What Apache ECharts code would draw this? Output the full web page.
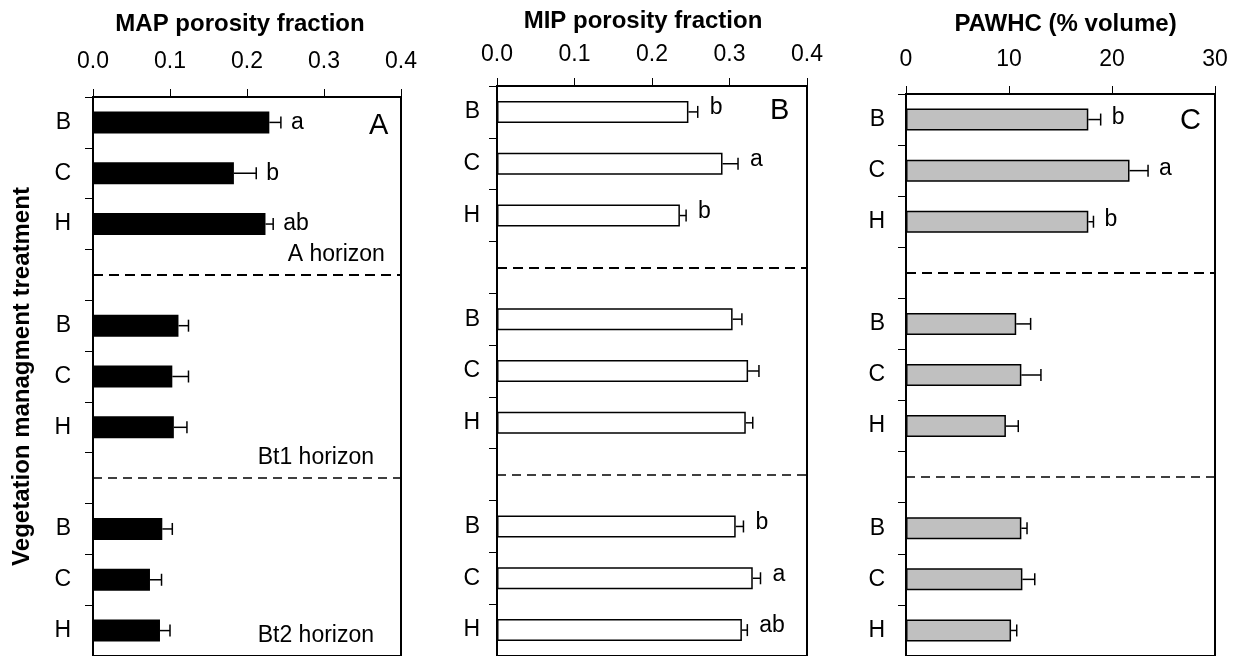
<!DOCTYPE html>
<html>
<head>
<meta charset="utf-8">
<script src="https://cdn.jsdelivr.net/npm/echarts@6/dist/echarts.min.js"></script>
<style>
html,body{margin:0;padding:0;background:#fff;}
#chart{width:1235px;height:656px;}
</style>
</head>
<body>
<div id="chart"></div>
<script>
// ---- data ----
const treatments = ['B', 'C', 'H'];
const horizons = ['A horizon', 'Bt1 horizon', 'Bt2 horizon'];

// order: A(B,C,H), Bt1(B,C,H), Bt2(B,C,H)
const mapMean = [0.229, 0.183, 0.224, 0.111, 0.103, 0.105, 0.090, 0.074, 0.087];
const mapErr  = [0.015, 0.029, 0.010, 0.013, 0.021, 0.017, 0.013, 0.015, 0.013];
const mapLetters = ['a', 'b', 'ab', '', '', '', '', '', ''];

const mipMean = [0.247, 0.291, 0.236, 0.304, 0.324, 0.321, 0.308, 0.330, 0.316];
const mipErr  = [0.012, 0.020, 0.008, 0.012, 0.014, 0.009, 0.010, 0.010, 0.007];
const mipLetters = ['b', 'a', 'b', '', '', '', 'b', 'a', 'ab'];

const pawMean = [17.7, 21.7, 17.7, 10.7, 11.2, 9.7, 11.2, 11.3, 10.2];
const pawErr  = [1.2, 1.8, 0.5, 1.4, 1.9, 1.2, 0.55, 1.2, 0.55];
const pawLetters = ['b', 'a', 'b', '', '', '', '', '', ''];

const fracTicks = ['0.0', '0.1', '0.2', '0.3', '0.4'];
const pawTicks = ['0', '10', '20', '30'];

// ---- build ----
const FONT = '"Liberation Sans", Arial, sans-serif';
const cats = [];
const idOf = [];
horizons.forEach((h, hi) => {
  treatments.forEach((t) => { idOf.push(t + hi); cats.push(t + hi); });
  if (hi < horizons.length - 1) cats.push('sep' + hi);
});
function slotValues(means) {
  return cats.map(c => {
    const k = idOf.indexOf(c);
    return k < 0 ? '-' : means[k];
  });
}

const chart = echarts.init(document.getElementById('chart'), null, {renderer: 'canvas'});

const grids = [
  {left: 93, top: 97, width: 308, height: 561},
  {left: 497, top: 86, width: 310, height: 572},
  {left: 906, top: 94, width: 309, height: 563}
];

const panels = [
  {name: 'MAP porosity fraction', max: 0.4, interval: 0.1, ticks: fracTicks, mean: mapMean, err: mapErr, letters: mapLetters,
   fill: '#000000', labelMargin: 24, nameGap: 61, namePad: [0, 14, 0, 0], catMargin: 22, letterGap: 10, letterDy: 0},
  {name: 'MIP porosity fraction', max: 0.4, interval: 0.1, ticks: fracTicks, mean: mipMean, err: mipErr, letters: mipLetters,
   fill: '#ffffff', labelMargin: 20, nameGap: 53, namePad: [0, 18, 0, 0], catMargin: 17, letterGap: 12, letterDy: -4},
  {name: 'PAWHC (% volume)', max: 30, interval: 10, ticks: pawTicks, mean: pawMean, err: pawErr, letters: pawLetters,
   fill: '#c0c0c0', labelMargin: 23, nameGap: 58, namePad: [0, 0, 0, 10], catMargin: 21, letterGap: 11, letterDy: -2}
];

const xAxes = [], yAxes = [], series = [];
panels.forEach((p, i) => {
  xAxes.push({
    gridIndex: i, type: 'value', position: 'top', min: 0, max: p.max, interval: p.interval,
    name: p.name, nameLocation: 'middle', nameGap: p.nameGap,
    nameTextStyle: {fontFamily: FONT, fontSize: 24, fontWeight: 'bold', color: '#000', padding: p.namePad},
    axisLine: {show: true, onZero: false, lineStyle: {color: '#000', width: 2}},
    axisTick: {show: true, inside: false, length: 8, lineStyle: {color: '#000', width: 1}},
    axisLabel: {fontFamily: FONT, fontSize: 23, color: '#000', margin: p.labelMargin,
      formatter: (v) => { const k = Math.round(v / p.interval); return p.ticks[k] !== undefined ? p.ticks[k] : ''; }},
    splitLine: {show: false}
  });
  const ya = {
    gridIndex: i, type: 'category', inverse: true, data: cats,
    axisLine: {show: true, lineStyle: {color: '#000', width: 2}},
    axisTick: {show: true, inside: false, length: 8, interval: 0, alignWithLabel: false, lineStyle: {color: '#000', width: 1}},
    axisLabel: {interval: 0, fontFamily: FONT, fontSize: 23, color: '#000', margin: p.catMargin,
      formatter: (v) => v.indexOf('sep') === 0 ? '' : v.charAt(0)},
    splitLine: {show: false}
  };
  if (i === 0) {
    ya.name = 'Vegetation managment treatment';
    ya.nameLocation = 'middle';
    ya.nameRotate = 90;
    ya.nameGap = 51;
    ya.nameTextStyle = {fontFamily: FONT, fontSize: 24, fontWeight: 'bold', color: '#000', padding: [0, 0, 8, 0]};
  }
  yAxes.push(ya);

  series.push({
    type: 'bar', xAxisIndex: i, yAxisIndex: i, barWidth: 22,
    data: slotValues(p.mean),
    itemStyle: {color: p.fill, borderColor: '#000', borderWidth: i === 0 ? 0 : 1.5},
    silent: true,
    markLine: {
      silent: true, symbol: 'none', label: {show: false},
      lineStyle: {color: '#000', type: [10, 6], width: 2},
      data: [{yAxis: 'sep0'}, {yAxis: 'sep1', lineStyle: {width: 1.5, type: [9, 6]}}]
    }
  });

  series.push({
    type: 'custom', xAxisIndex: i, yAxisIndex: i, silent: true, z: 5,
    encode: {x: 1, y: 0},
    data: idOf.map((id, k) => [id, p.mean[k], p.err[k]]),
    renderItem: function (params, api) {
      const idx = api.value(0);
      const m = api.value(1), e = api.value(2);
      const p0 = api.coord([m, idx]);
      const p1 = api.coord([m + e, idx]);
      const children = [
        {type: 'line', shape: {x1: p0[0], y1: p0[1], x2: p1[0], y2: p1[1]}, style: {stroke: '#000', lineWidth: 1.5}},
        {type: 'line', shape: {x1: p1[0], y1: p1[1] - 6, x2: p1[0], y2: p1[1] + 6}, style: {stroke: '#000', lineWidth: 1.5}}
      ];
      const L = p.letters[params.dataIndex];
      if (L) {
        children.push({type: 'text', x: p1[0] + p.letterGap, y: p1[1] + p.letterDy,
          style: {text: L, fill: '#000', font: '23px ' + FONT, align: 'left', verticalAlign: 'middle'}});
      }
      return {type: 'group', children: children};
    }
  });
});

// horizon labels in panel A
const horizonPlace = [
  {slot: 'sep0', at: 0.379, dy: -20},
  {slot: 'sep1', at: 0.365, dy: -20},
  {slot: 'H2', at: 0.365, dy: 5}
];
series.push({
  type: 'custom', xAxisIndex: 0, yAxisIndex: 0, silent: true, z: 6,
  encode: {x: 1, y: 0},
  data: horizons.map((h, k) => [horizonPlace[k].slot, horizonPlace[k].at]),
  renderItem: function (params, api) {
    const pt = api.coord([api.value(1), api.value(0)]);
    return {type: 'text', x: pt[0], y: pt[1] + horizonPlace[params.dataIndex].dy,
      style: {text: horizons[params.dataIndex], fill: '#000', font: '23px ' + FONT, align: 'right', verticalAlign: 'middle'}};
  }
});

const option = {
  backgroundColor: '#ffffff',
  animation: false,
  title: [
    {text: 'A', left: 369, top: 111, textStyle: {fontFamily: FONT, fontSize: 29, fontWeight: 'normal', color: '#000'}, padding: 0},
    {text: 'B', left: 770, top: 96, textStyle: {fontFamily: FONT, fontSize: 29, fontWeight: 'normal', color: '#000'}, padding: 0},
    {text: 'C', left: 1180, top: 106, textStyle: {fontFamily: FONT, fontSize: 29, fontWeight: 'normal', color: '#000'}, padding: 0}
  ],
  grid: grids.map(g => Object.assign({show: true, borderColor: '#000', borderWidth: 2, backgroundColor: 'transparent', containLabel: false}, g)),
  xAxis: xAxes,
  yAxis: yAxes,
  series: series
};
chart.setOption(option);
</script>
</body>
</html>
